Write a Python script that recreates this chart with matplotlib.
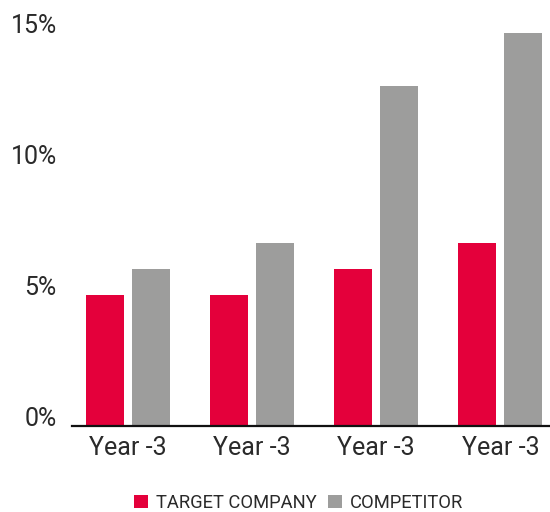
import matplotlib
matplotlib.use("Agg")
import matplotlib.pyplot as plt
from matplotlib.patches import Patch
import numpy as np

categories = ["Year -3", "Year -3", "Year -3", "Year -3"]
target = [5, 5, 6, 7]
competitor = [6, 7, 13, 15]
series_names = ["TARGET COMPANY", "COMPETITOR"]
yticks = [0, 5, 10, 15]
ytick_labels = ["0%", "5%", "10%", "15%"]

RED = "#E4003B"
GRAY = "#9D9D9C"
TXT = "#2a2a2a"

plt.rcParams['font.family'] = ['Roboto', 'DejaVu Sans']

fig = plt.figure(figsize=(5.5, 5.12), dpi=100)
ax = fig.add_axes([72/550, 86/512, 1 - 72/550, (426 - 20.4)/512])

x = np.arange(len(categories))
w = 0.306
off = 0.185
ax.bar(x - off, target, width=w, color=RED, zorder=2)
ax.bar(x + off, competitor, width=w, color=GRAY, zorder=2)

ax.set_xlim(-0.451, 3.399)
ax.set_ylim(0, 15.5)
ax.set_yticks(yticks)
ax.set_yticklabels(ytick_labels, fontsize=18, color=TXT, va='baseline')
ax.set_xticks(x)
ax.set_xticklabels(categories, fontsize=18, color=TXT)
ax.tick_params(axis='y', length=0, pad=11)
ax.tick_params(axis='x', length=0, pad=7)

for s in ['top', 'right', 'left']:
    ax.spines[s].set_visible(False)
ax.spines['bottom'].set_linewidth(1.6)
ax.spines['bottom'].set_color('#111111')

handles = [Patch(facecolor=RED, edgecolor='none'), Patch(facecolor=GRAY, edgecolor='none')]
fig.legend(handles, series_names, loc='center', bbox_to_anchor=(299/550, 1 - 503/512),
           ncol=2, frameon=False, fontsize=13.2, handlelength=0.75, handleheight=0.75,
           handletextpad=0.45, columnspacing=0.6, borderaxespad=0, borderpad=0.1,
           labelcolor=TXT)

fig.savefig("out.png", dpi=100)
